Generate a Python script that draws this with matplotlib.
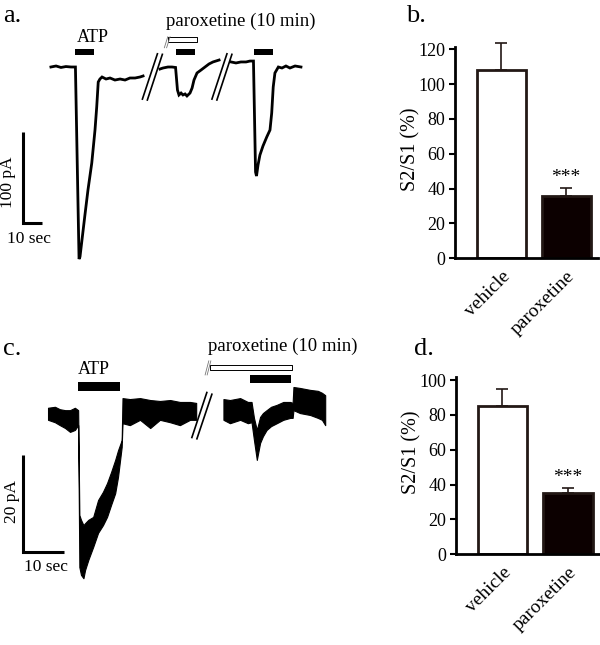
import matplotlib
matplotlib.use('Agg')
import matplotlib.pyplot as plt

plt.rcParams['font.family'] = 'Liberation Serif'

# ---- panel a: whole-cell current traces (time in sec, current in pA)
a_t1 = [26.8, 29.5, 32.1, 34.7, 37.4, 39.7, 41.6, 42.1, 44.7, 46.3, 48.3, 50.0, 50.9, 51.7,
        52.6, 53.7, 55.8, 57.9, 60.5, 63.2, 65.8, 68.4, 71.1, 73.7, 75.3]
a_i1 = [0, 1.1, -0.5, 0.5, 0, 0, -209.4, -207.0, -161.4, -134.1, -104.7, -68.7, -43.6, -16.4,
        -13.1, -10.9, -13.1, -12.0, -14.2, -13.1, -14.2, -12.0, -12.0, -10.9, -9.8]
a_t2 = [84.2, 85.8, 88.4, 90.5, 92.4, 93.4, 94.2, 95.3, 96.3, 97.4, 98.4, 100.0, 101.1, 102.1,
        103.7, 105.8, 107.9, 110.0, 112.1, 115.3]
a_i2 = [-2.2, -1.1, 0, 0, -0.5, -25.1, -30.5, -28.4, -30.5, -29.4, -31.6, -28.4, -22.9, -14.2,
        -6.5, -3.3, 0, 3.3, 5.5, 7.6]
a_t3 = [121.6, 124.2, 126.8, 129.5, 131.6, 133.4, 134.5, 135.0, 135.8, 136.8, 138.4, 140.4,
        142.1, 143.0, 143.8, 144.7, 146.5, 148.4, 150.5, 152.6, 155.3, 158.4]
a_i3 = [5.5, 4.4, 5.5, 5.5, 6.5, 6.5, -114.5, -118.9, -106.9, -96.0, -86.2, -76.3,
        -68.7, -50.2, -21.8, -6.5, 0, -1.1, 1.1, -1.1, 1.1, 0]
a_atp = [(39.5, 49.6), (92.5, 102.6), (133.8, 143.8)]
a_parox = (88.6, 103.5)
a_breaks = [80.2, 116.8]

# ---- panel c: noisy trace, upper / lower edge of the noise band
c_t1 = [11.8, 13.5, 14.7, 16.0, 17.2, 18.4, 19.2, 19.5, 19.9, 20.5, 20.9, 21.7, 22.9, 24.1,
        25.3, 26.3, 27.3, 28.3, 29.0, 29.9, 30.1, 31.9, 34.4, 36.9, 39.3, 41.8, 44.2, 46.7, 48.2]
c_hi1 = [1.5, 1.7, 1.2, 1.0, 1.0, 1.5, 1.0, -20.7, -21.7, -22.8, -22.4, -21.7, -21.1, -17.6,
         -15.9, -14.1, -11.8, -9.3, -7.3, -5.2, 3.5, 3.3, 3.5, 3.1, 2.9, 3.1, 2.7, 2.7, 2.5]
c_lo1 = [-1.0, -1.5, -2.1, -2.7, -3.5, -3.1, -2.1, -31.5, -33.1, -33.8, -32.1, -30.0, -27.3, -24.4,
         -22.8, -21.1, -18.6, -16.2, -12.8, -6.6, -1.7, -2.1, -1.0, -2.7, -1.0, -1.5, -2.1, -1.0, -1.0]
c_t2 = [54.9, 56.5, 59.0, 60.9, 61.8, 62.4, 63.1, 63.9, 64.6, 65.5, 66.6, 68.0, 69.6, 71.3,
        71.9, 72.1, 73.7, 76.2, 78.1, 79.1, 79.9]
c_hi2 = [3.3, 3.1, 3.5, 2.7, 2.7, -0.6, -3.1, -0.4, 0.4, 1.0, 1.7, 2.1, 2.7, 2.7,
         2.5, 5.8, 5.6, 5.2, 5.0, 4.6, 4.1]
c_lo2 = [-1.0, -1.7, -1.0, -1.7, -1.5, -5.2, -9.3, -5.8, -4.4, -3.1, -2.3, -1.7, -1.0, -0.6,
         -0.6, 1.0, 0.4, 0.0, -0.6, -1.0, -2.1]
c_atp = [(19.2, 29.5), (61.4, 71.5)]
c_parox = (51.6, 71.7)
c_breaks = [49.6]

# ---- panels b / d: S2/S1 ratio
groups = ['vehicle', 'paroxetine']
b_mean = [108, 36]
b_sem = [15.5, 4.5]
d_mean = [85, 35]
d_sem = [10, 3]

W, H = 600, 645
fig = plt.figure(figsize=(W / 100, H / 100), dpi=100)


def axes_px(x0, y0, x1, y1):
    # place an axes using pixel coordinates (top-left origin)
    return fig.add_axes([x0 / W, 1 - y1 / H, (x1 - x0) / W, (y1 - y0) / H])


# ---------------- a ----------------
ax = axes_px(0, 0, 310, 285)
ax.set_xlim(0, 310 / 1.9)
ax.set_ylim((67 - 285) / 0.917, 67 / 0.917)
ax.axis('off')
for t, i in [(a_t1, a_i1), (a_t2, a_i2), (a_t3, a_i3)]:
    ax.plot(t, i, color='black', lw=2.0, solid_joinstyle='miter')
for b in a_breaks:
    ax.plot([b - 1.3 - 3.95, b - 1.3 + 3.95], [-35, 14.4], color='black', lw=1.2)
    ax.plot([b + 1.3 - 3.95, b + 1.3 + 3.95], [-36, 13.8], color='black', lw=1.2)
ax.broken_barh([(s, e - s) for s, e in a_atp], (13.1, 6.5), facecolors='black')
ax.broken_barh([(a_parox[0], a_parox[1] - a_parox[0])], (27.6, 4.8),
               facecolors='white', edgecolors='black', linewidth=0.7)
ax.plot([86.5, 88.3], [21, 33], color='#777777', lw=0.6)
ax.plot([87.7, 89.5], [21, 33], color='#777777', lw=0.6)
ax.text(a_atp[0][0] + 0.8, 27.5, 'ATP', fontsize=13, va='baseline', ha='left')
ax.text(87.4, 45.3, 'paroxetine (10 min)', fontsize=13.5, va='baseline', ha='left')
# scale bar
ax.plot([11.95, 11.95, 21.95], [-70.4, -170.4, -170.4], color='black', lw=2.2,
        solid_joinstyle='miter', solid_capstyle='butt')
ax.text(4.2, -125.4, '100 pA', rotation=90, ha='center', va='center', fontsize=12.5)
ax.text(15.3, -187.6, '10 sec', ha='center', va='center', fontsize=12.5)

# ---------------- c ----------------
ax = axes_px(0, 330, 345, 600)
ax.set_xlim(0, 345 / 4.07)
ax.set_ylim((415 - 600) / 4.83, (415 - 330) / 4.83)
ax.axis('off')
for t, hi, lo in [(c_t1, c_hi1, c_lo1), (c_t2, c_hi2, c_lo2)]:
    ax.fill_between(t, lo, hi, color='black', lw=0.8)
for b in c_breaks:
    ax.plot([b - 0.62 - 1.84, b - 0.62 + 1.84], [-4.66, 4.66], color='black', lw=1.2)
    ax.plot([b + 0.62 - 1.84, b + 0.62 + 1.84], [-4.93, 4.3], color='black', lw=1.2)
ax.broken_barh([(c_atp[0][0], c_atp[0][1] - c_atp[0][0])], (5.0, 1.86), facecolors='black')
ax.broken_barh([(c_atp[1][0], c_atp[1][1] - c_atp[1][0])], (6.56, 1.72), facecolors='black')
ax.broken_barh([(c_parox[0], c_parox[1] - c_parox[0])], (9.32, 1.03),
               facecolors='white', edgecolors='black', linewidth=0.7)
ax.plot([50.4, 51.3], [8.3, 11.2], color='#777777', lw=0.6)
ax.plot([50.9, 51.8], [8.3, 11.2], color='#777777', lw=0.6)
ax.text(c_atp[0][0], 8.5, 'ATP', fontsize=13, va='baseline', ha='left')
ax.text(51.2, 13.25, 'paroxetine (10 min)', fontsize=13.5, va='baseline', ha='left')
ax.plot([5.72, 5.72, 15.72], [-8.28, -28.28, -28.28], color='black', lw=2.2,
        solid_joinstyle='miter', solid_capstyle='butt')
ax.text(2.95, -18.0, '20 pA', rotation=90, ha='center', va='center', fontsize=12.5)
ax.text(11.3, -31.5, '10 sec', ha='center', va='center', fontsize=12.5)


# ---------------- b / d bar charts ----------------
def bar_panel(box, means, sems, top, ticks, lab_y):
    ax = axes_px(*box)
    x = [0, 1]
    ax.bar(x, means, width=0.756, color=['white', '#0c0000'],
           edgecolor='#231815', linewidth=2, zorder=2)
    eb = ax.errorbar(x, means, yerr=[[0, 0], sems], fmt='none', ecolor='#231815',
                     elinewidth=1.2, capsize=4, capthick=1.2, zorder=1)
    for art in eb.lines[1] + eb.lines[2]:
        art.set_clip_on(False)
    ax.text(1, means[1] + sems[1] + 1, '***', ha='center', va='bottom', fontsize=14)
    ax.set_xlim(-0.71, 1.49)
    ax.set_ylim(0, top)
    ax.set_yticks(ticks)
    ax.set_xticks(x)
    ax.set_xticklabels(groups, rotation=45, ha='right', va='top',
                       rotation_mode='anchor', fontsize=14)
    ax.tick_params(axis='x', length=0, pad=7)
    ax.tick_params(axis='y', direction='out', length=4, width=1.5, labelsize=13, pad=3)
    for s in ['top', 'right']:
        ax.spines[s].set_visible(False)
    for s in ['left', 'bottom']:
        ax.spines[s].set_linewidth(2)
    ax.set_ylabel('S2/S1 (%)', fontsize=14.5)
    ax.yaxis.set_label_coords(-0.24, lab_y)
    return ax


bar_panel((455, 46.6, 598, 258.3), b_mean, b_sem, 121.5, range(0, 121, 20), 0.514)
bar_panel((456, 377.4, 600, 554.3), d_mean, d_sem, 101.5, range(0, 101, 20), 0.576)

fig.text(3 / W, 1 - 22 / H, 'a.', fontsize=19, va='baseline')
fig.text(406 / W, 1 - 22 / H, 'b.', fontsize=19, va='baseline')
fig.text(3 / W, 1 - 355 / H, 'c.', fontsize=19, va='baseline')
fig.text(414 / W, 1 - 355 / H, 'd.', fontsize=19, va='baseline')

fig.savefig('out.png', dpi=100)
